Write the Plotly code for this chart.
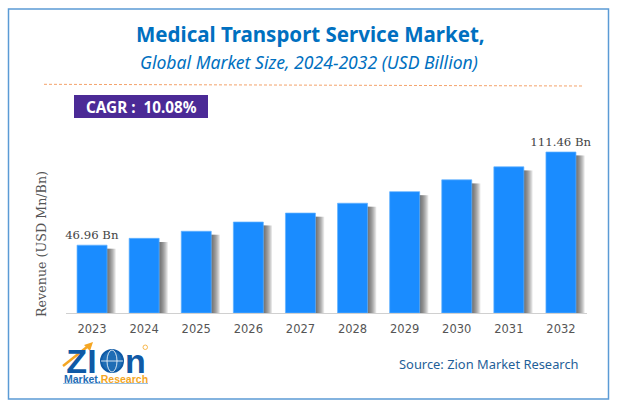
import plotly.graph_objects as go

W = 617
H = 409

years = ["2023", "2024", "2025", "2026", "2027", "2028", "2029", "2030", "2031", "2032"]
revenue = [46.96, 51.7, 56.6, 63.0, 69.2, 76.0, 84.0, 92.2, 101.2, 111.46]
bar_labels = ["46.96 Bn", "", "", "", "", "", "", "", "", "111.46 Bn"]

BLUE = "#0070c0"
BAR = "#1a8cff"
LOGO_BLUE = "#0f5aa6"
LOGO_ORANGE = "#f5a623"


def px(x):
    return x / W


def py(y):
    return 1 - y / H


fig = go.Figure()

# soft shadow right of each bar, stacked thin bars getting narrower
bar_w = 0.576
for i in range(9):
    fig.add_bar(
        x=years,
        y=[v - 2.5 for v in revenue],
        width=bar_w,
        offset=-bar_w / 2 + (9 - i) * 0.0185,
        marker=dict(color="rgba(60,60,60,0.12)", line_width=0),
        hoverinfo="skip",
        showlegend=False,
    )

fig.add_bar(
    x=years,
    y=revenue,
    width=bar_w,
    offset=-bar_w / 2,
    marker=dict(color=BAR, line=dict(color="#62b2ff", width=0.7)),
    text=bar_labels,
    textposition="outside",
    constraintext="none",
    textfont=dict(family="DejaVu Serif", size=11.7, color="#444444"),
    cliponaxis=False,
    showlegend=False,
)

# frame, divider, CAGR box
shapes = [
    dict(type="rect", xref="paper", yref="paper", x0=px(8.5), x1=px(608.5), y0=py(9), y1=py(399),
         line=dict(color="#5b9bd5", width=1.5), fillcolor="rgba(0,0,0,0)"),
    dict(type="line", xref="paper", yref="paper", x0=px(44), x1=px(582), y0=py(84.3), y1=py(86),
         line=dict(color="#f4a26a", width=1, dash="3px,2px")),
    dict(type="rect", xref="paper", yref="paper", x0=px(74), x1=px(208), y0=py(95), y1=py(118),
         line_width=0, fillcolor="#4b2a96"),
    # logo globe, arrow, underline and registered mark
    dict(type="circle", xref="paper", yref="paper", x0=px(101), x1=px(123), y0=py(350), y1=py(372),
         line=dict(color=LOGO_BLUE, width=2), fillcolor="#1f6db5"),
    dict(type="circle", xref="paper", yref="paper", x0=px(107), x1=px(117), y0=py(350), y1=py(372),
         line=dict(color="white", width=0.8), fillcolor="rgba(0,0,0,0)"),
    dict(type="line", xref="paper", yref="paper", x0=px(101), x1=px(123), y0=py(361), y1=py(361),
         line=dict(color="white", width=0.8)),
    dict(type="line", xref="paper", yref="paper", x0=px(63), x1=px(87), y0=py(366), y1=py(347),
         line=dict(color=LOGO_ORANGE, width=2.5)),
    dict(type="path", xref="paper", yref="paper", line_width=0, fillcolor=LOGO_ORANGE,
         path=f"M {px(84)} {py(345)} L {px(93)} {py(342)} L {px(90)} {py(351)} Z"),
    dict(type="circle", xref="paper", yref="paper", x0=px(143), x1=px(147.5), y0=py(345), y1=py(349.5),
         line=dict(color=LOGO_ORANGE, width=0.8), fillcolor="rgba(0,0,0,0)"),
    dict(type="line", xref="paper", yref="paper", x0=px(63), x1=px(148), y0=py(383.5), y1=py(383.5),
         line=dict(color="#7fb2dd", width=0.8)),
]


def label(x, y, text, size, color, family="Noto Sans", anchor="center", angle=0):
    fig.add_annotation(
        xref="paper", yref="paper", x=px(x), y=py(y), text=text, showarrow=False,
        xanchor=anchor, yanchor="middle", textangle=angle,
        font=dict(family=family, size=size, color=color),
    )


label(310, 34, "<b>Medical Transport Service Market,</b>", 20.5, BLUE)
label(309, 62, "<i>Global Market Size, 2024-2032 (USD Billion)</i>", 17.6, BLUE)
label(141, 107, "<b>CAGR :  10.08%</b>", 15.3, "white")
label(41, 244, "Revenue (USD Mn/Bn)", 12.7, "#555555", family="DejaVu Serif", angle=-90)
label(489, 364, "Source: Zion Market Research", 12.9, "#1f5f99")

# logo lettering kept in one text, the globe sits in the gap
logo_text = (
    f'<span style="font-size:34px;color:{LOGO_BLUE}"><b>ZI\u00a0\u00a0\u00a0n</b></span>'
    f'<br><span style="font-size:10.5px;color:#1f6db5"><b>Market.</b></span>'
    f'<span style="font-size:10.5px;color:{LOGO_ORANGE}"><b>Research</b></span>'
)
label(105.5, 363, logo_text, 8, LOGO_BLUE, family="Liberation Sans")

fig.update_layout(
    width=W,
    height=H,
    margin=dict(l=0, r=0, t=0, b=0),
    paper_bgcolor="white",
    plot_bgcolor="white",
    barmode="overlay",
    shapes=shapes,
    xaxis=dict(
        domain=[px(66), px(587)],
        showgrid=False,
        showline=True,
        linecolor="#d0d0d0",
        linewidth=1,
        ticks="",
        ticklabelstandoff=5,
        tickfont=dict(family="DejaVu Sans", size=11.5, color="#555555"),
    ),
    yaxis=dict(domain=[py(313), py(130)], range=[0, 126.7], visible=False),
)

fig.write_html("out.html", config=dict(displayModeBar=False), post_script="document.body.style.margin='0';")
